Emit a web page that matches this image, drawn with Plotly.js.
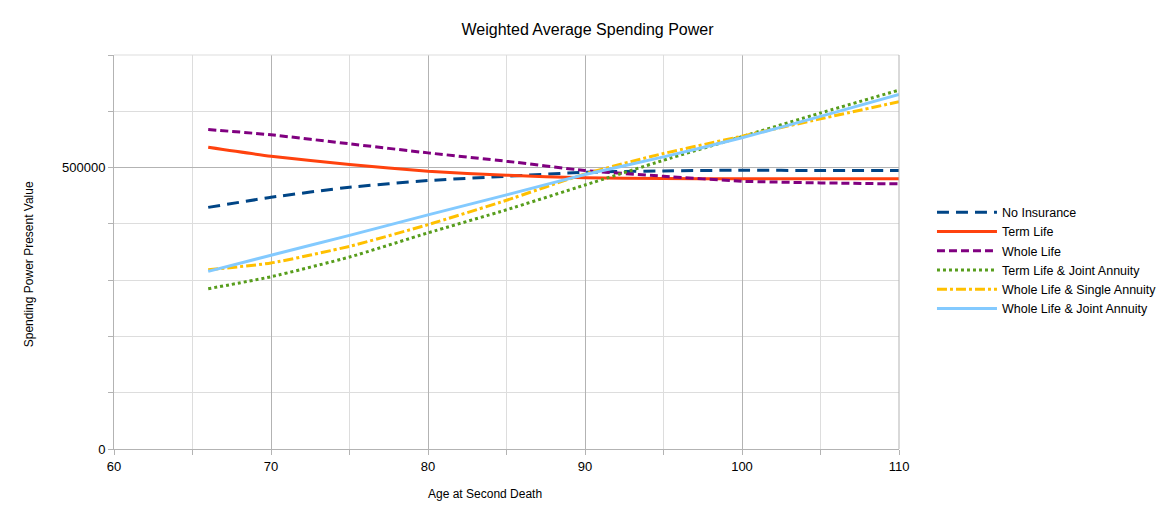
<!DOCTYPE html>
<html>
<head>
<meta charset="utf-8">
<script src="https://cdn.plot.ly/plotly-3.0.1.min.js"></script>
<style>
  html, body { margin: 0; padding: 0; background: #fff; }
  #plot { width: 1175px; height: 522px; }
</style>
</head>
<body>
<div id="plot"></div>
<script>
// ages
const ages = [66, 70, 75, 80, 85, 90, 95, 100, 105, 110];

// spending power present value, per strategy
const noInsurance   = [429300, 447200, 465000, 476900, 484600, 491700, 494100, 495300, 494700, 494700];
const termLife      = [536000, 520000, 505300, 493400, 486400, 481700, 480400, 480000, 480000, 480000];
const wholeLife     = [567700, 558200, 542200, 526100, 511300, 494700, 484600, 475700, 472800, 471000];
const termJoint     = [284700, 306000, 341000, 384000, 425000, 469000, 513000, 555000, 597000, 637600];
const wholeSingle   = [318400, 330400, 360000, 398600, 441900, 488800, 525000, 555800, 586600, 617000];
const wholeJoint    = [315500, 344200, 379500, 416000, 451500, 487600, 519000, 553000, 591000, 630000];

const seriesNames = [
  'No Insurance',
  'Term Life',
  'Whole Life',
  'Term Life & Joint Annuity',
  'Whole Life & Single Annuity',
  'Whole Life & Joint Annuity'
];

const makeLine = (name, y, color, dash) => ({
  x: ages,
  y,
  name,
  type: 'scatter',
  mode: 'lines',
  hoverinfo: 'none',
  line: { color, width: 3, dash, shape: 'spline', smoothing: 0.5 }
});

const traces = [
  makeLine(seriesNames[0], noInsurance, '#004586', '12px,7px'),
  makeLine(seriesNames[1], termLife, '#ff420e', 'solid'),
  makeLine(seriesNames[2], wholeLife, '#800080', '8px,4px'),
  makeLine(seriesNames[3], termJoint, '#579d1c', '3px,3px'),
  makeLine(seriesNames[4], wholeSingle, '#ffc000', '10px,3px,3px,3px'),
  makeLine(seriesNames[5], wholeJoint, '#83caff', 'solid')
];

const font = { family: 'Liberation Sans, Arial, sans-serif', color: '#000' };

const layout = {
  width: 1175,
  height: 522,
  paper_bgcolor: '#fff',
  plot_bgcolor: '#fff',
  font: { ...font, size: 13 },
  margin: { l: 114, r: 276, t: 55, b: 73, autoexpand: false },
  title: {
    text: 'Weighted Average Spending Power',
    font: { ...font, size: 16 },
    x: 0.5, xref: 'container', xanchor: 'center',
    y: 0.944, yref: 'container', yanchor: 'middle'
  },
  xaxis: {
    range: [60, 110],
    dtick: 10,
    tick0: 60,
    showgrid: true,
    gridcolor: '#b3b3b3',
    gridwidth: 1,
    showline: true,
    linecolor: '#b3b3b3',
    zeroline: false,
    ticks: 'outside',
    ticklen: 5,
    tickcolor: '#b3b3b3',
    tickfont: { ...font, size: 13 },
    minor: { dtick: 5, showgrid: true, gridcolor: '#dddddd', ticks: 'outside', ticklen: 5, tickcolor: '#b3b3b3' }
  },
  yaxis: {
    range: [0, 700000],
    dtick: 500000,
    tick0: 0,
    showgrid: true,
    gridcolor: '#b3b3b3',
    showline: true,
    linecolor: '#b3b3b3',
    zeroline: false,
    ticks: 'outside',
    ticklen: 5,
    tickcolor: '#b3b3b3',
    tickfont: { ...font, size: 13 },
    tickformat: 'd',
    minor: { dtick: 100000, showgrid: true, gridcolor: '#dddddd', ticks: 'outside', ticklen: 5, tickcolor: '#b3b3b3' }
  },
  shapes: [
    // top and right edges of the plot frame
    { type: 'line', xref: 'paper', yref: 'paper', x0: 0, x1: 1, y0: 1, y1: 1, line: { color: '#dddddd', width: 1 } },
    { type: 'line', xref: 'paper', yref: 'paper', x0: 1, x1: 1, y0: 0, y1: 1, line: { color: '#b3b3b3', width: 1 } }
  ],
  annotations: [
    {
      text: 'Age at Second Death',
      xref: 'paper', yref: 'paper',
      x: 0.473, y: -0.115,
      xanchor: 'center', yanchor: 'middle',
      showarrow: false,
      font: { ...font, size: 12 }
    },
    {
      text: 'Spending Power Present Value',
      xref: 'paper', yref: 'paper',
      x: -0.109, y: 0.47,
      xanchor: 'center', yanchor: 'middle',
      textangle: -90,
      showarrow: false,
      font: { ...font, size: 12 }
    }
  ],
  showlegend: true,
  legend: {
    x: 1.042, xanchor: 'left',
    y: 0.638, yanchor: 'top',
    font: { ...font, size: 12.5 },
    itemwidth: 60,
    tracegroupgap: 0,
    bgcolor: 'rgba(0,0,0,0)'
  },
  hovermode: false
};

Plotly.newPlot('plot', traces, layout, { staticPlot: true });
</script>
</body>
</html>
